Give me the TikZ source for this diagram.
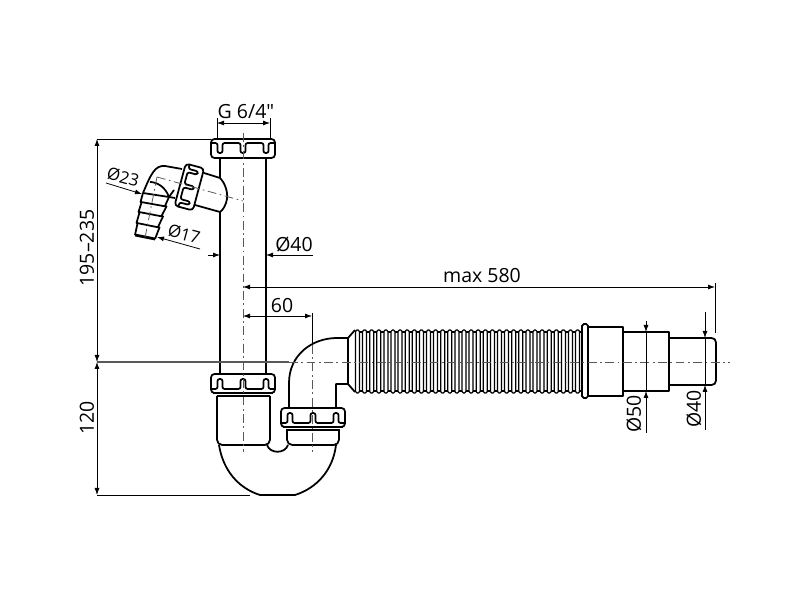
\documentclass[tikz,border=0pt]{standalone}
\usepackage{fontspec}
\newfontfamily\dimfont{Open Sans}
\usetikzlibrary{arrows.meta}

\begin{document}
\begin{tikzpicture}[
        x=0.2mm, y=-0.2mm, % one unit is one pixel of the sheet
        pipeline/.style={draw=black, line width=1pt, line join=round},
        rib/.style={draw=black, line width=0.7pt, rounded corners=0.8pt},
        dimline/.style={draw=black, line width=0.45pt},
        dimarrow/.style={dimline, -{Latex[length=1.4mm,width=1mm]}},
        dimboth/.style={dimline, {Latex[length=1.4mm,width=1mm]}-{Latex[length=1.4mm,width=1mm]}},
        axisline/.style={draw=black!65, line width=0.45pt, dash pattern=on 5pt off 2pt on 1pt off 2pt},
        dimtext/.style={font=\dimfont\fontsize{11.1}{13}\selectfont, inner sep=0pt},
        sidetext/.style={font=\dimfont\fontsize{9.6}{11}\selectfont, inner sep=0pt},
        pics/pipenut/.style={code={
                \draw[pipeline, rounded corners=2pt] (-32,0) rectangle (32,19);
                \draw[pipeline, rounded corners=1.2pt] (-32,15)
                \foreach \p in {-23,0,23} {-- ({\p-2.5},15) -- ({\p-2.5},5) -- ({\p+2.5},5) -- ({\p+2.5},15)} -- (32,15);
            }},
    ]
    \useasboundingbox (0,0) rectangle (800,600);

    % main pipe
    \draw[pipeline] (220,158) -- (220,178);
    \draw[pipeline] (220,212) -- (220,374);
    \draw[pipeline] (266,158) -- (266,374);
    \pic[yscale=-1] at (243,158) {pipenut};
    \pic at (243,374) {pipenut};
    \pic at (313,408) {pipenut};

    % bowl
    \draw[pipeline] (213,393.5) -- (273,393.5);
    \draw[pipeline] (217,396) -- (270,396);
    \draw[pipeline, rounded corners=3pt] (217,396) -- (217,445) -- (270,445) -- (270,396);
    \draw[pipeline] (283,427.5) -- (343,427.5);
    \draw[pipeline] (286,430) -- (340,430);
    \draw[pipeline, rounded corners=3pt] (287,430) -- (287,445) -- (339,445) -- (339,430);
    \draw[pipeline] (219,445) .. controls (223,470) and (238,488) .. (260,495) -- (295,495)
    .. controls (317,488) and (333,470) .. (336,445);
    \draw[pipeline] (267,445) .. controls (270,454) and (285,454) .. (288,445);

    % elbow
    \draw[pipeline] (289,408) -- (289,383) .. controls (289,355) and (312,338) .. (337,338) -- (348,338) -- (355,330);
    \draw[pipeline] (336,408) -- (336,384) -- (348,384) -- (355,392);
    \draw[pipeline] (348,338) -- (348,384);

    % flexible part
    \foreach \i in {0,...,31} {
            \pgfmathsetmacro{\ribx}{355.5+7.1*\i}
            \draw[rib] (\ribx,330) rectangle ({\ribx+4},393);
            \draw[rib] ({\ribx+4},332) -- ({\ribx+7.1},332);
            \draw[rib] ({\ribx+4},391) -- ({\ribx+7.1},391);
        }

    % outlet
    \draw[pipeline, rounded corners=1pt] (582,324) rectangle (588,398);
    \draw[pipeline] (588,327) rectangle (623,396);
    \draw[pipeline] (623,332) rectangle (669,391);
    \draw[pipeline, rounded corners=2.5pt] (669,338) -- (716,338) -- (716,385) -- (669,385);

    % side branch
    \draw[pipeline] (204,173) -- (220,178) .. controls (225,183) and (228,192) .. (227,199)
    .. controls (226,205) and (223,210) .. (220,212) -- (195,205);
    \pic[rotate=-105, xscale=.68] at (198.5,189.5) {pipenut};
    \draw[pipeline] (182,169) -- (165,166) .. controls (155,165) and (151,174) .. (143,193);
    \draw[pipeline] (150,182) .. controls (156,182) and (165,186) .. (169,197);
    \draw[pipeline] (143,193) -- (169,197) -- (175,198);
    \draw[pipeline] (174,190) -- (169,197);

    % hose end
    \draw[pipeline] (143,193) -- (140.5,202) -- (141.5,202.5) -- (138.5,212) -- (139.5,212.5)
    -- (136.5,223) -- (137.5,223.5) -- (135,235);
    \draw[pipeline] (169,197) -- (165,206) -- (166.5,206.5) -- (161.5,216) -- (163,216.5)
    -- (158,227) -- (159.5,227.5) -- (155,239);
    \draw[pipeline] (141,202) -- (166,206.5);
    \draw[pipeline] (139,212) -- (162.5,216.5);
    \draw[pipeline] (137,223) -- (159,227.5);
    \draw[draw=black, line width=1.6pt] (135,235) -- (155,239);

    % centre lines
    \coordinate (mainaxisA) at (243,133);
    \coordinate (mainaxisB) at (243,452);
    \coordinate (traptop) at (312,345);
    \coordinate (trapaxisB) at (312,452);
    \coordinate (levelL) at (97,362);
    \coordinate (levelM) at (289,362);
    \coordinate (levelR) at (730,362);
    \coordinate (sideaxisA) at (157,177);
    \coordinate (sideaxisB) at (243,201);
    \coordinate (hoseaxisB) at (145,238);
    \draw[axisline] (mainaxisA) -- (mainaxisB);
    \draw[axisline] (traptop) -- (trapaxisB);
    \draw[axisline] (levelM) -- (levelR);
    \draw[axisline] (sideaxisA) -- (sideaxisB);
    \draw[axisline] (sideaxisA) -- (hoseaxisB);
    \draw[draw=black!65, line width=0.6pt] (levelL) -- (levelM);

    % G 6/4
    \coordinate (gL) at (217,123);
    \coordinate (gR) at (270,123);
    \coordinate (gLtop) at (217,118);
    \coordinate (gRtop) at (270,118);
    \coordinate (gLbot) at (217,139);
    \coordinate (gRbot) at (270,139);
    \node[dimtext] (gtext) at (246,112) {G 6/4"};
    \draw[dimboth] (gL) -- (gR);
    \draw[dimline] (gLtop) -- (gLbot);
    \draw[dimline] (gRtop) -- (gRbot);

    % 195-235 and 120
    \coordinate (hightop) at (97,139);
    \coordinate (hightopR) at (211,139);
    \coordinate (lowbot) at (97,495);
    \coordinate (lowbotR) at (250,495);
    \node[dimtext, rotate=90] (hightext) at (87,248) {195–235};
    \node[dimtext, rotate=90] (lowtext) at (87,418) {120};
    \draw[dimboth] (hightop) -- (levelL);
    \draw[dimboth] (levelL) -- (lowbot);
    \draw[dimline] (hightop) -- (hightopR);
    \draw[dimline] (lowbot) -- (lowbotR);

    % side branch sizes
    \coordinate (d23A) at (106,183);
    \coordinate (d23B) at (142,194);
    \coordinate (d17A) at (200,249);
    \coordinate (d17B) at (157,237);
    \node[sidetext, rotate=-15] (d23text) at (123,177) {Ø23};
    \node[sidetext, rotate=-15] (d17text) at (184,234) {Ø17};
    \draw[dimarrow] (d23A) -- (d23B);
    \draw[dimarrow] (d17A) -- (d17B);

    % pipe size
    \coordinate (d40A) at (208,255);
    \coordinate (d40B) at (220,255);
    \coordinate (d40C) at (313,255);
    \coordinate (d40D) at (266,255);
    \node[dimtext] (d40text) at (294,245) {Ø40};
    \draw[dimarrow] (d40A) -- (d40B);
    \draw[dimarrow] (d40C) -- (d40D);

    % max 580 and 60
    \coordinate (maxL) at (243,287);
    \coordinate (maxR) at (715,287);
    \coordinate (maxRtop) at (715,283);
    \coordinate (maxRbot) at (715,333);
    \coordinate (sixtyL) at (243,316);
    \coordinate (sixtyR) at (312,316);
    \coordinate (sixtytop) at (312,313);
    \node[dimtext] (maxtext) at (482,276) {max 580};
    \node[dimtext] (sixtytext) at (282,306) {60};
    \draw[dimboth] (maxL) -- (maxR);
    \draw[dimline] (maxRtop) -- (maxRbot);
    \draw[dimboth] (sixtyL) -- (sixtyR);
    \draw[dimline] (sixtytop) -- (traptop);

    % outlet sizes
    \coordinate (o50A) at (646,321);
    \coordinate (o50B) at (646,332);
    \coordinate (o50C) at (646,433);
    \coordinate (o50D) at (646,391);
    \coordinate (o40A) at (705,312);
    \coordinate (o40B) at (705,338);
    \coordinate (o40C) at (705,430);
    \coordinate (o40D) at (705,385);
    \node[dimtext, rotate=90] (o50text) at (634,414) {Ø50};
    \node[dimtext, rotate=90] (o40text) at (694,409) {Ø40};
    \draw[dimarrow] (o50A) -- (o50B);
    \draw[dimarrow] (o50C) -- (o50D);
    \draw[dimline] (o50B) -- (o50D);
    \draw[dimarrow] (o40A) -- (o40B);
    \draw[dimarrow] (o40C) -- (o40D);
    \draw[dimline] (o40B) -- (o40D);
\end{tikzpicture}
\end{document}
